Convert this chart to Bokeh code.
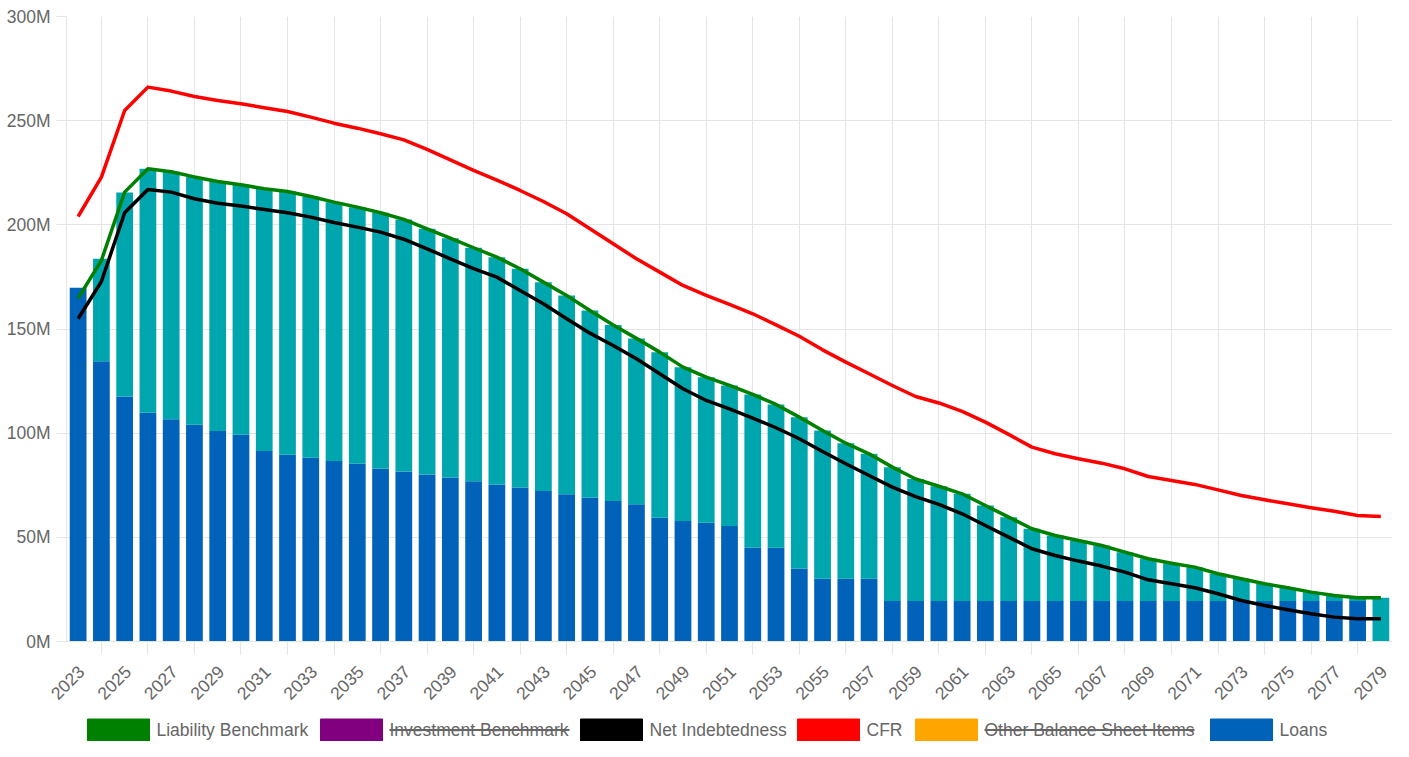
import math
from bokeh.plotting import figure
from bokeh.models import Range1d, FixedTicker, ColumnDataSource
from bokeh.layouts import column
from bokeh.core.properties import value
from bokeh.embed import file_html
from bokeh.resources import INLINE

# ---------------- data (values in millions) ----------------
years = list(range(2023, 2080))

loans = [169.8, 134.5, 117.6, 109.8, 106.7, 104.0, 101.1, 99.2, 91.4, 89.6,
         88.2, 86.7, 85.3, 83.0, 81.6, 80.2, 78.7, 76.9, 75.4, 73.9,
         72.3, 70.7, 69.1, 67.5, 65.9, 59.4, 57.9, 57.0, 55.4, 45.0,
         45.0, 35.0, 30.1, 30.1, 30.1, 19.5, 19.5, 19.5, 19.5, 19.5,
         19.5, 19.5, 19.5, 19.5, 19.5, 19.5, 19.5, 19.5, 19.5, 19.5,
         19.5, 19.5, 19.5, 19.5, 19.5, 19.5, 0.0]

other = [0.0, 49.2, 97.9, 117.1, 118.8, 119.0, 119.7, 120.0, 125.9, 126.4,
         125.4, 124.2, 123.2, 122.8, 121.0, 117.9, 114.9, 112.1, 109.1, 105.0,
         100.2, 95.4, 89.8, 84.4, 79.6, 79.5, 73.8, 69.9, 67.5, 73.6,
         68.8, 72.7, 71.2, 65.1, 60.0, 64.2, 58.5, 55.0, 51.4, 45.8,
         40.2, 34.6, 31.4, 29.0, 26.6, 23.4, 20.2, 18.1, 16.2, 13.0,
         10.6, 8.2, 6.3, 4.2, 2.6, 1.5, 21.0]

liability_benchmark = [164.8, 182.9, 215.7, 226.9, 225.5, 223.0, 220.8, 219.2, 217.3, 216.0,
                       213.6, 210.9, 208.5, 205.8, 202.6, 198.1, 193.6, 189.0, 184.5, 178.9,
                       172.5, 166.1, 158.9, 151.9, 145.5, 138.9, 131.7, 126.9, 122.9, 118.6,
                       113.8, 107.7, 101.3, 95.2, 90.1, 83.7, 78.0, 74.5, 70.9, 65.3,
                       59.7, 54.1, 50.9, 48.5, 46.1, 42.9, 39.7, 37.6, 35.7, 32.5,
                       30.1, 27.7, 25.8, 23.7, 22.1, 21.0, 21.0]

net_indebtedness = [154.9, 172.8, 205.8, 217.0, 215.7, 212.5, 210.4, 209.0, 207.4, 205.8,
                    203.7, 201.1, 198.9, 196.5, 193.1, 188.5, 183.7, 179.0, 174.9, 168.5,
                    162.1, 154.9, 148.0, 142.1, 135.7, 128.5, 121.3, 115.7, 111.7, 107.2,
                    102.6, 97.3, 91.2, 85.3, 79.7, 74.1, 69.5, 65.8, 61.3, 55.7,
                    50.1, 44.5, 41.3, 38.6, 36.2, 33.3, 29.6, 27.7, 25.8, 22.9,
                    19.7, 17.3, 15.2, 13.3, 11.7, 10.9, 10.9]

cfr = [204.0, 222.9, 254.9, 266.1, 264.2, 261.6, 259.7, 258.1, 256.2, 254.4,
       251.7, 248.8, 246.4, 243.7, 240.8, 236.2, 231.2, 226.1, 221.5, 216.5,
       211.2, 205.3, 198.1, 190.9, 183.7, 177.3, 170.9, 166.1, 161.8, 157.3,
       152.0, 146.5, 140.0, 134.1, 128.5, 122.9, 117.6, 114.5, 110.5, 105.3,
       99.4, 93.3, 90.1, 87.7, 85.6, 82.9, 79.2, 77.3, 75.4, 72.8,
       70.1, 68.0, 66.1, 64.2, 62.5, 60.5, 60.0]

y_ticks = [0, 50, 100, 150, 200, 250, 300]
y_tick_labels = ["0M", "50M", "100M", "150M", "200M", "250M", "300M"]

legend_labels = ["Liability Benchmark", "Investment Benchmark", "Net Indebtedness",
                 "CFR", "Other Balance Sheet Items", "Loans"]
legend_hidden = [False, True, False, False, True, False]

# ---------------- styles ----------------
BLUE = "#0063B9"
TEAL = "#00A6AD"
GRID = "#e5e5e5"
TXT = "#666666"
FONT = "Liberation Sans"
FS = "17.5px"
legend_colors = ["#008000", "#800080", "#000000", "#FF0000", "#FFA500", BLUE]
legend_box_x = [87, 320, 580, 797, 915, 1210]
legend_strike_w = [0, 180, 0, 0, 210, 0]

W = 1393
BORDER_L, BORDER_R = 66, 1
FRAME_L, FRAME_R = BORDER_L, W - BORDER_R
MAIN_H = 711
LEG_H = 30

src = ColumnDataSource(dict(year=years, loans=loans, other=other))

p = figure(width=W, height=MAIN_H, x_range=Range1d(2022.5, 2079.5), y_range=Range1d(0, 300),
           output_backend="svg", toolbar_location=None,
           min_border_left=BORDER_L, min_border_right=BORDER_R, min_border_top=16, min_border_bottom=70)
p.outline_line_color = None

p.vbar_stack(["loans", "other"], x="year", width=0.72, source=src,
             fill_color=[BLUE, TEAL], line_color=[BLUE, TEAL], line_width=0)

p.line(years, liability_benchmark, line_color="#008000", line_width=3.5, line_join="round")
p.line(years, net_indebtedness, line_color="#000000", line_width=3.5, line_join="round")
p.line(years, cfr, line_color="#FF0000", line_width=3.5, line_join="round")

odd_years = [y for y in years if (y - 2023) % 2 == 0]
even_years = [y for y in years if (y - 2023) % 2 == 1]
label_shift = 0.13
label_pos = [y + label_shift for y in odd_years]

xa = p.xaxis[0]
xa.ticker = FixedTicker(ticks=label_pos, minor_ticks=even_years)
xa.major_label_overrides = {pos: str(y) for pos, y in zip(label_pos, odd_years)}
xa.major_label_orientation = math.pi / 4
xa.major_tick_line_color = None
xa.major_tick_out = 13
xa.major_tick_in = 0
xa.minor_tick_line_color = GRID
xa.minor_tick_out = 13
xa.minor_tick_in = 0
xa.axis_line_color = GRID
xa.major_label_text_color = TXT
xa.major_label_text_font = FONT
xa.major_label_text_font_size = FS
xa.major_label_standoff = 14

ya = p.yaxis[0]
ya.ticker = FixedTicker(ticks=y_ticks)
ya.major_label_overrides = {t: l for t, l in zip(y_ticks, y_tick_labels)}
ya.axis_line_color = GRID
ya.major_tick_line_color = GRID
ya.major_tick_out = 10
ya.major_tick_in = 0
ya.minor_tick_line_color = None
ya.major_label_text_color = TXT
ya.major_label_text_font = FONT
ya.major_label_text_font_size = FS
ya.major_label_standoff = 6

p.xgrid.ticker = FixedTicker(ticks=even_years)
p.xgrid.grid_line_color = GRID
p.ygrid.ticker = FixedTicker(ticks=y_ticks)
p.ygrid.grid_line_color = GRID

# ---------------- legend (separate strip, pixel coordinates of the figure) ----------------
LEG_TOP, LEG_BOT = MAIN_H, MAIN_H + LEG_H
lf = figure(width=W, height=LEG_H,
            x_range=Range1d(FRAME_L, FRAME_R), y_range=Range1d(LEG_BOT, LEG_TOP),
            output_backend="svg", toolbar_location=None, x_axis_type=None, y_axis_type=None,
            min_border_left=BORDER_L, min_border_right=BORDER_R, min_border_top=0, min_border_bottom=0)
lf.outline_line_color = None
lf.grid.visible = False

ly = LEG_TOP + 18.5
lf.rect(x=[bx + 31 for bx in legend_box_x], y=[ly] * 6, width=62, height=22,
        fill_color=legend_colors, line_color=legend_colors, line_width=1)
lf.text(x=[bx + 69 for bx in legend_box_x], y=[ly] * 6, text=legend_labels,
        text_font=value(FONT), text_font_size=FS, text_color=TXT,
        text_baseline="middle", text_align="left")
sx0 = [bx + 69 for bx, h in zip(legend_box_x, legend_hidden) if h]
sw = [w for w, h in zip(legend_strike_w, legend_hidden) if h]
lf.segment(x0=sx0, y0=[ly] * len(sx0), x1=[a + w for a, w in zip(sx0, sw)], y1=[ly] * len(sx0),
           line_color=TXT, line_width=2)

layout = column(p, lf)
open("out.html", "w").write(file_html(layout, INLINE))
